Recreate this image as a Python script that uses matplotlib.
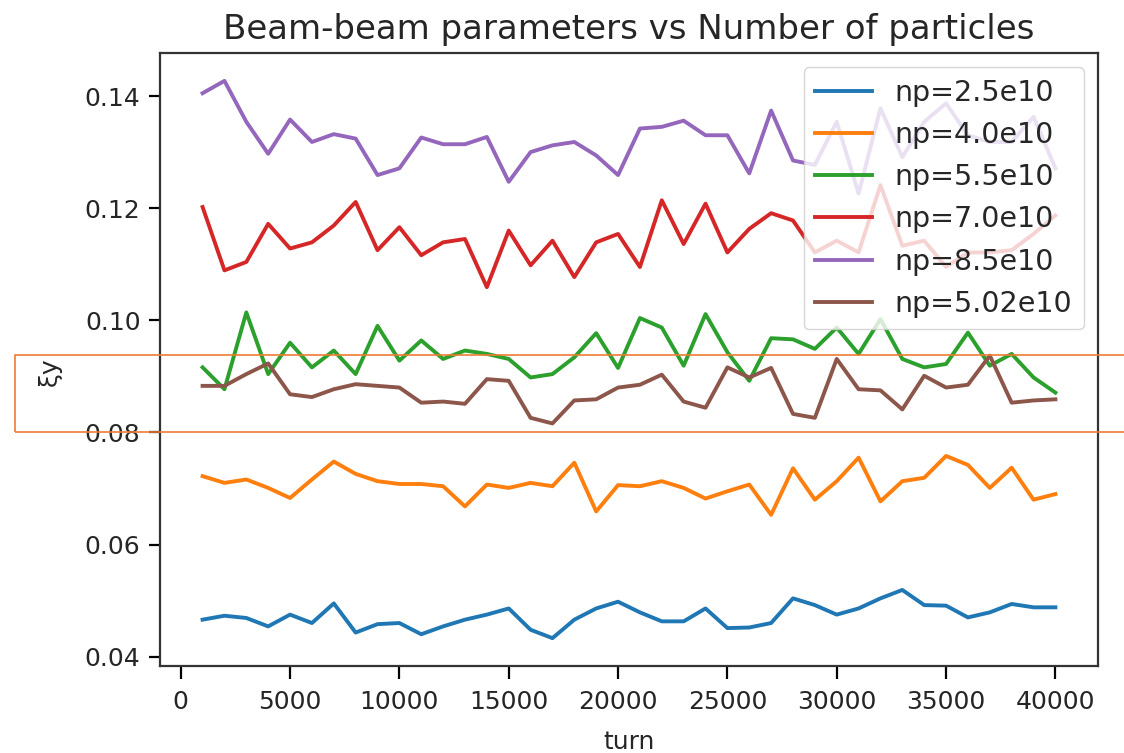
import matplotlib
matplotlib.use("Agg")
import matplotlib.pyplot as plt
from matplotlib.patches import Rectangle
import numpy as np

turns = np.arange(1000, 40001, 1000)

xi_2p5 = [0.0466, 0.0473, 0.0469, 0.0454, 0.0475, 0.0460, 0.0495, 0.0443, 0.0458, 0.0460,
          0.0440, 0.0454, 0.0466, 0.0475, 0.0486, 0.0448, 0.0433, 0.0466, 0.0486, 0.0498,
          0.0479, 0.0463, 0.0463, 0.0486, 0.0451, 0.0452, 0.0460, 0.0504, 0.0492, 0.0475,
          0.0486, 0.0504, 0.0519, 0.0492, 0.0491, 0.0470, 0.0479, 0.0494, 0.0488, 0.0488]
xi_4p0 = [0.0722, 0.0710, 0.0716, 0.0701, 0.0683, 0.0716, 0.0748, 0.0726, 0.0713, 0.0708,
          0.0708, 0.0704, 0.0668, 0.0707, 0.0701, 0.0710, 0.0704, 0.0746, 0.0659, 0.0706,
          0.0704, 0.0713, 0.0701, 0.0682, 0.0695, 0.0707, 0.0653, 0.0736, 0.0680, 0.0713,
          0.0755, 0.0677, 0.0713, 0.0719, 0.0758, 0.0742, 0.0701, 0.0737, 0.0680, 0.0690]
xi_5p5 = [0.0916, 0.0877, 0.1014, 0.0904, 0.0960, 0.0916, 0.0946, 0.0904, 0.0990, 0.0928,
          0.0964, 0.0931, 0.0946, 0.0940, 0.0931, 0.0898, 0.0904, 0.0934, 0.0977, 0.0915,
          0.1004, 0.0987, 0.0919, 0.1011, 0.0943, 0.0892, 0.0968, 0.0966, 0.0949, 0.0987,
          0.0940, 0.1002, 0.0931, 0.0916, 0.0922, 0.0978, 0.0919, 0.0940, 0.0898, 0.0871]
xi_7p0 = [0.1202, 0.1089, 0.1104, 0.1172, 0.1128, 0.1139, 0.1169, 0.1211, 0.1125, 0.1166,
          0.1116, 0.1139, 0.1145, 0.1059, 0.1160, 0.1098, 0.1142, 0.1077, 0.1139, 0.1154,
          0.1095, 0.1214, 0.1136, 0.1208, 0.1121, 0.1163, 0.1191, 0.1178, 0.1121, 0.1142,
          0.1121, 0.1241, 0.1133, 0.1142, 0.1095, 0.1121, 0.1121, 0.1125, 0.1154, 0.1187]
xi_8p5 = [0.1405, 0.1427, 0.1354, 0.1297, 0.1358, 0.1318, 0.1332, 0.1324, 0.1259, 0.1271,
          0.1326, 0.1314, 0.1314, 0.1327, 0.1247, 0.1300, 0.1312, 0.1318, 0.1294, 0.1259,
          0.1342, 0.1345, 0.1356, 0.1330, 0.1330, 0.1262, 0.1374, 0.1285, 0.1277, 0.1354,
          0.1226, 0.1378, 0.1291, 0.1354, 0.1387, 0.1330, 0.1318, 0.1318, 0.1363, 0.1271]
xi_5p02 = [0.0883, 0.0883, 0.0904, 0.0923, 0.0868, 0.0863, 0.0877, 0.0886, 0.0883, 0.0880,
           0.0853, 0.0855, 0.0851, 0.0895, 0.0892, 0.0826, 0.0816, 0.0857, 0.0859, 0.0880,
           0.0885, 0.0903, 0.0855, 0.0844, 0.0916, 0.0898, 0.0915, 0.0833, 0.0826, 0.0931,
           0.0877, 0.0875, 0.0841, 0.0901, 0.0880, 0.0885, 0.0937, 0.0853, 0.0857, 0.0859]

series = [
    ("np=2.5e10", xi_2p5),
    ("np=4.0e10", xi_4p0),
    ("np=5.5e10", xi_5p5),
    ("np=7.0e10", xi_7p0),
    ("np=8.5e10", xi_8p5),
    ("np=5.02e10", xi_5p02),
]

plt.rcParams["font.size"] = 18
TEXT_COLOR = "#262626"

fig = plt.figure(figsize=(11.24, 7.53), dpi=100)
ax = fig.add_axes([0.1423, 0.1155, 0.8346, 0.8141])

for label, vals in series:
    ax.plot(turns, vals, linewidth=2.8, label=label)

ax.set_title("Beam-beam parameters vs Number of particles", fontsize=24.5, pad=10,
             color=TEXT_COLOR)
ax.set_xlabel("turn", labelpad=12, color=TEXT_COLOR)
ax.set_ylabel("ξy", labelpad=19, color=TEXT_COLOR)
ax.yaxis.set_label_coords(-0.105, 0.48)
ax.set_yticks([0.04, 0.06, 0.08, 0.10, 0.12, 0.14])
ax.tick_params(axis="x", width=1.6, length=9, pad=8, labelcolor=TEXT_COLOR)
ax.tick_params(axis="y", width=1.6, length=8, pad=6, labelcolor=TEXT_COLOR)
for spine in ax.spines.values():
    spine.set_linewidth(1.6)
    spine.set_color("#333333")
leg = ax.legend(loc="upper right", fontsize=20.5)
for txt in leg.get_texts():
    txt.set_color(TEXT_COLOR)

# highlight box across the 0.08-0.09 band
fig.patches.append(Rectangle((15 / 1124, 1 - 432 / 753), 1.2, 77 / 753,
                             transform=fig.transFigure, fill=False,
                             edgecolor="#ed7d31", linewidth=1.2, zorder=10))

fig.savefig("out.png", dpi=100)
